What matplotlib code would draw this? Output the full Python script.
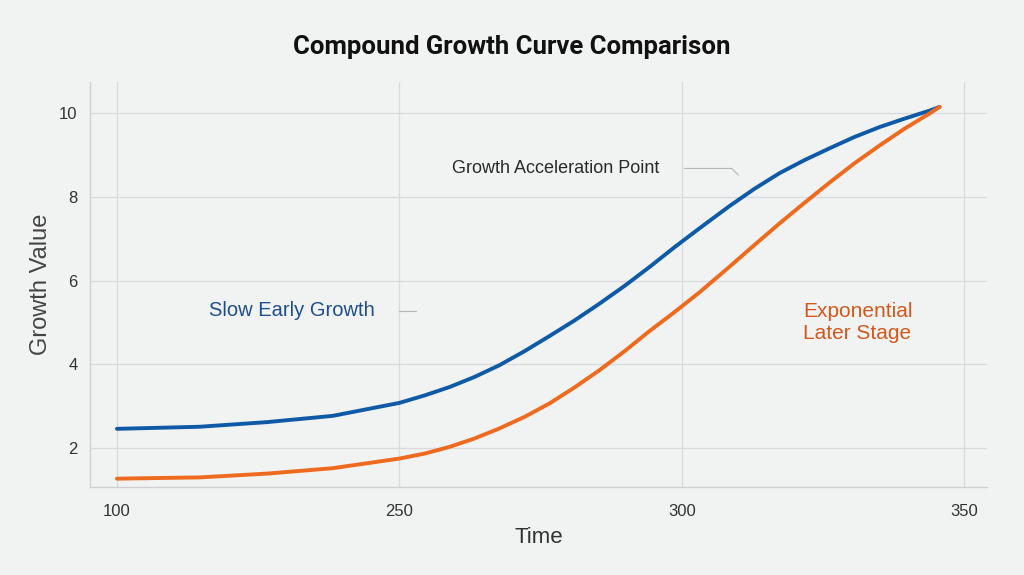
import numpy as np
import matplotlib
matplotlib.use("Agg")
import matplotlib.pyplot as plt

# ---- data ----
time = [100, 144, 179.6, 214.6, 250, 254.5, 258.9, 263.3, 267.7, 272.2, 276.6, 281.0,
        285.4, 289.9, 294.3, 298.7, 303.1, 308.4, 312.9, 317.3, 321.7, 326.1, 330.5,
        335.0, 339.4, 343.8, 345.6]
slow_early = [2.46, 2.51, 2.62, 2.77, 3.08, 3.26, 3.46, 3.70, 3.98, 4.32, 4.68, 5.05,
              5.45, 5.88, 6.33, 6.80, 7.25, 7.78, 8.20, 8.57, 8.88, 9.16, 9.43,
              9.67, 9.87, 10.06, 10.15]
exp_later = [1.27, 1.30, 1.39, 1.52, 1.75, 1.87, 2.03, 2.23, 2.47, 2.75, 3.07, 3.45,
             3.86, 4.32, 4.80, 5.25, 5.72, 6.33, 6.86, 7.37, 7.86, 8.34, 8.80,
             9.23, 9.63, 9.99, 10.15]
x_ticks = [100, 250, 300, 350]
y_ticks = [2, 4, 6, 8, 10]

BLUE = "#0e5aa7"
ORANGE = "#ee6a1e"
BG = "#f1f2f2"
GRID = "#d9dadb"

plt.rcParams['font.family'] = ['Liberation Sans', 'DejaVu Sans']

# piecewise-linear time scale (axis has equal spacing between labelled ticks)
def fwd(t):
    t = np.asarray(t, dtype=float)
    return np.where(t <= 250, (t - 100) / 150.0,
                    np.where(t <= 300, 1 + (t - 250) / 50.0, 2 + (t - 300) / 50.0))

def inv(u):
    u = np.asarray(u, dtype=float)
    return np.where(u <= 1, 100 + 150 * u,
                    np.where(u <= 2, 250 + 50 * (u - 1), 300 + 50 * (u - 2)))

fig = plt.figure(figsize=(10.24, 5.75), dpi=100, facecolor=BG)
ax = fig.add_axes([0.0879, 0.153, 0.876, 0.704])
ax.set_facecolor(BG)
ax.set_xscale('function', functions=(fwd, inv))

ax.plot(time, slow_early, color=BLUE, lw=2.8, solid_capstyle='round', solid_joinstyle='round', zorder=3)
ax.plot(time, exp_later, color=ORANGE, lw=2.8, solid_capstyle='round', solid_joinstyle='round', zorder=3)

ax.set_xlim(85.7, 354)
ax.set_ylim(1.07, 10.74)
ax.set_xticks(x_ticks)
ax.set_xticklabels([str(v) for v in x_ticks])
ax.set_yticks(y_ticks)
ax.tick_params(axis='both', length=0, labelsize=12, labelcolor='#333333')
ax.tick_params(axis='x', pad=12)
ax.tick_params(axis='y', pad=9)
ax.grid(True, color=GRID, lw=0.9, zorder=0)

for s in ['top', 'right']:
    ax.spines[s].set_visible(False)
for s in ['left', 'bottom']:
    ax.spines[s].set_color('#cfd0d1')
    ax.spines[s].set_linewidth(1.0)

ax.set_xlabel('Time', fontsize=16, color='#333333', labelpad=6)
ax.set_ylabel('Growth Value', fontsize=17, color='#444444', labelpad=5)

fig.text(0.5, 0.918, 'Compound Growth Curve Comparison', ha='center', va='center',
         fontsize=18.5, fontweight='bold', color='#111111', family=['Roboto', 'DejaVu Sans'])

# annotations
ax.annotate('Growth Acceleration Point', xy=(310, 8.52), xytext=(296, 8.68),
            ha='right', va='center', fontsize=13, color='#2a2a2a',
            arrowprops=dict(arrowstyle='-', color='#b5b6b7', lw=0.8,
                            shrinkA=16, shrinkB=0,
                            connectionstyle='angle,angleA=0,angleB=-45,rad=0'))

ax.text(100 + 150 * (375 - 117) / 282.67, 5.28, 'Slow Early Growth', ha='right', va='center',
        fontsize=14.5, color='#1f4f8a')
ax.plot([250.0, 252.9], [5.28, 5.28], color='#b5b6b7', lw=0.8)

ax.text(321.5, 5.0, 'Exponential\nLater Stage', ha='left', va='center',
        fontsize=15, color='#d2581c', linespacing=1.2)

fig.savefig('out.png', dpi=100, facecolor=BG)
